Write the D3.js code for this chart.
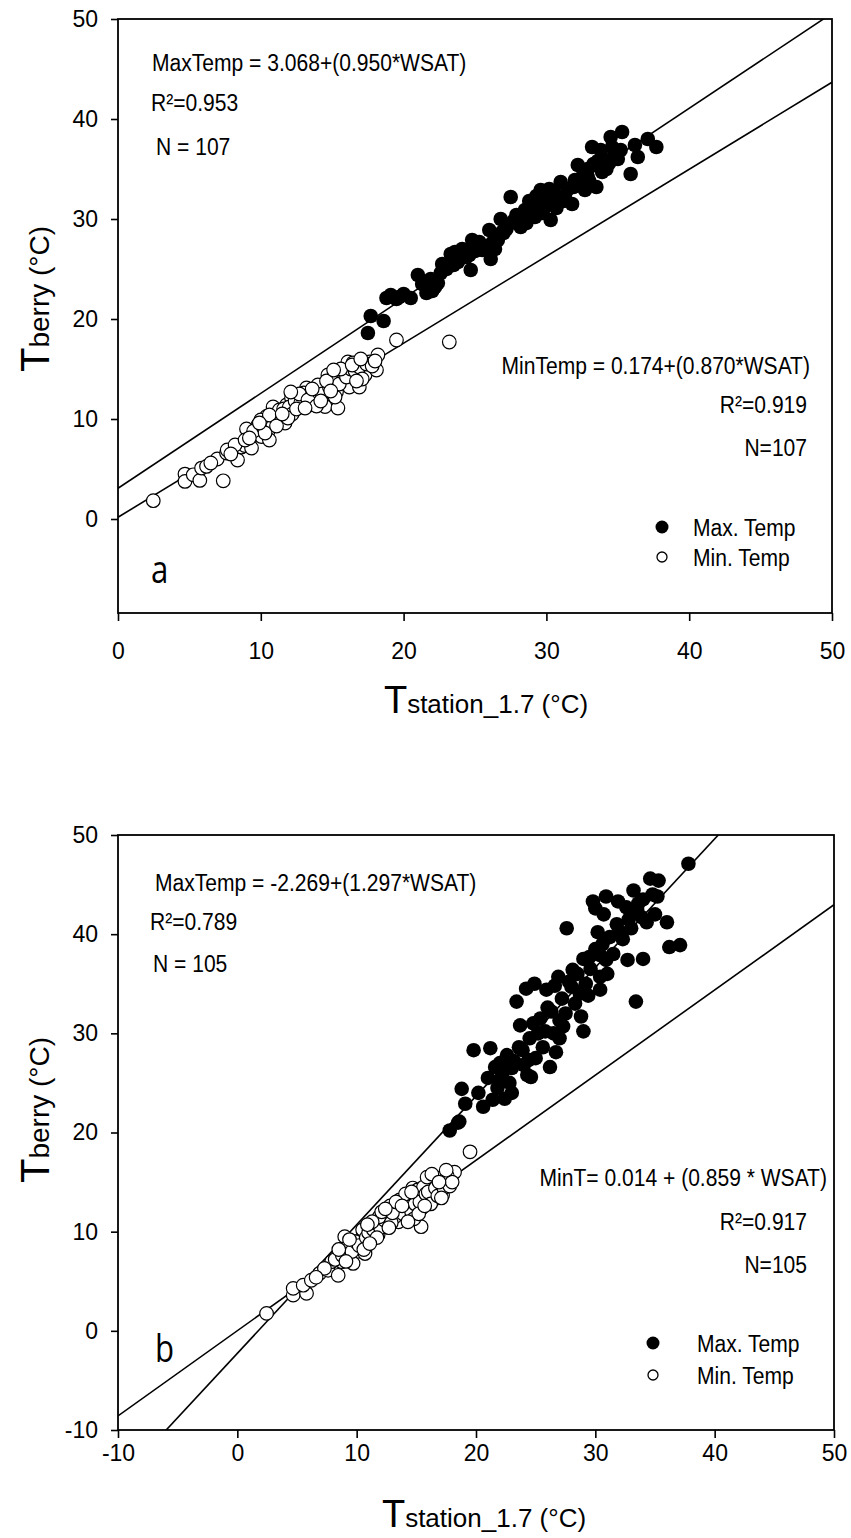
<!DOCTYPE html>
<html>
<head>
<meta charset="utf-8">
<script src="https://cdn.jsdelivr.net/npm/d3@7"></script>
<style>
  body { margin: 0; background: #fff; }
  text { font-family: "Liberation Sans", Arial, sans-serif; fill: #000; }
</style>
</head>
<body>
<div class="chart"></div>
<script>
const WIDTH = 851, HEIGHT = 1538;

// panel a : [station temp, berry temp]
const topMax = [
  [17.5,18.6],[17.7,20.3],[18.6,19.8],[18.8,22.1],[19.1,22.4],[19.7,22.2],[20.5,22.1],[21.0,24.4],
  [21.6,22.6],[21.8,23.7],[22.2,23.2],[22.4,23.6],[22.7,25.5],[23.3,26.5],[23.8,25.7],[24.1,27.0],
  [24.7,24.9],[24.8,27.9],[25.3,27.7],[25.5,26.9],[26.1,26.0],[26.0,28.9],[26.4,28.2],[26.8,30.0],
  [26.9,28.7],[27.5,32.2],[27.9,30.4],[28.2,29.2],[28.5,30.9],[28.9,31.5],[29.2,30.2],[29.6,32.9],
  [29.9,31.9],[30.3,29.9],[30.6,32.5],[31.0,33.7],[31.3,32.4],[31.8,31.5],[32.0,33.9],[32.2,35.4],
  [32.7,32.9],[32.9,34.2],[33.2,37.2],[33.5,33.2],[33.8,36.9],[33.9,34.7],[34.2,35.0],[34.5,38.2],
  [34.8,36.7],[35.3,38.7],[35.2,36.9],[35.9,34.5],[36.2,37.4],[36.4,36.2],[37.1,38.0],[37.7,37.2],
  [21.3,23.5],[21.9,24.0],[22.6,24.6],[23.0,25.0],[23.5,25.4],[23.9,26.0],[24.4,26.2],[25.0,26.8],
  [25.6,27.2],[26.2,27.6],[26.6,27.9],[27.0,28.6],[27.3,29.4],[27.7,29.8],[28.0,30.0],[28.4,30.4],
  [28.7,30.2],[29.0,30.8],[29.4,31.2],[29.8,31.0],[30.0,31.5],[30.4,31.8],[30.8,32.0],[31.2,31.8],
  [31.5,33.0],[31.9,33.2],[32.4,33.8],[32.9,35.0],[33.3,35.5],[33.6,35.8],[34.0,36.0],[34.6,37.2],
  [35.0,36.0],[24.6,26.4],[25.9,26.9],[26.4,27.0],[27.2,29.0],[28.8,31.8],[29.3,32.3],[30.2,33.0],
  [30.7,31.1],[22.0,22.8],[20.0,22.5],[19.5,22.0],[23.6,26.7],[24.9,27.2],[28.6,29.6],[29.7,30.6],
  [32.6,34.6],[33.0,33.8],[34.4,35.6]
];
const topMin = [
  [2.47,1.83],[4.69,4.49],[4.69,3.76],[5.27,4.42],[5.73,3.86],[5.85,5.09],[6.2,5.26],[6.95,6.0],
  [7.37,3.82],[7.6,6.6],[7.65,6.9],[8.37,5.9],[8.65,7.2],[8.88,7.35],[9.0,9.0],[9.35,7.1],
  [9.7,8.4],[9.8,9.4],[10.05,8.25],[10.4,10.25],[10.5,8.75],[10.6,7.9],[10.86,11.2],[11.2,10.6],
  [11.45,9.9],[11.7,9.6],[11.8,11.4],[12.15,12.1],[12.26,10.9],[12.6,11.6],[12.96,12.3],[13.2,13.1],
  [13.4,11.4],[13.8,11.75],[14.1,12.9],[14.36,12.1],[14.5,11.25],[14.7,14.4],[14.95,13.6],[15.3,12.7],
  [15.4,11.1],[15.76,13.9],[16.1,15.7],[16.45,15.6],[16.2,13.2],[16.9,13.2],[17.3,14.4],[17.6,15.7],
  [18.1,14.9],[18.2,16.4],[19.5,17.9],[23.2,17.7],
  [9.5,8.8],[10.2,9.1],[10.8,9.6],[11.0,10.2],[11.3,10.9],[11.6,11.0],[12.0,11.2],[12.4,11.8],
  [12.8,11.6],[13.0,12.6],[13.5,12.2],[13.7,12.8],[14.0,13.4],[14.3,12.5],[14.8,13.2],[15.0,14.0],
  [15.5,13.5],[15.8,14.6],[16.0,14.2],[16.3,15.0],[16.6,14.8],[16.9,15.2],[17.1,14.0],[17.4,15.5],
  [17.8,15.3],[18.0,15.8],[8.2,7.4],[8.9,7.9],[9.2,8.1],[10.0,9.9],[10.6,10.4],[12.2,10.5],
  [12.7,12.5],[13.3,11.9],[13.9,11.3],[14.6,13.8],[15.2,12.2],[15.6,15.0],[16.7,13.8],[11.9,10.1],
  [12.5,11.0],[13.6,13.0],[14.2,11.8],[15.1,14.9],[10.3,8.6],[11.1,9.3],[9.9,9.6],[7.9,6.5],
  [6.5,5.6],[16.4,15.4],[17.0,16.0],[14.9,12.8],[13.1,11.1],[11.5,10.5],[12.1,12.7]
];

// panel b
const botMax = [
  [17.8,20.2],[18.6,21.1],[19.1,22.9],[18.8,24.4],[20.6,22.6],[21.4,23.3],[22.4,23.4],[19.8,28.3],
  [21.2,28.5],[21.6,26.6],[22.0,25.3],[22.6,27.8],[23.0,26.5],[23.7,30.8],[23.9,28.3],[24.4,27.3],
  [24.6,25.6],[24.8,31.0],[25.2,30.0],[25.6,28.6],[26.2,26.6],[26.7,28.1],[23.4,33.2],[24.2,34.5],
  [24.9,35.0],[25.9,34.4],[26.3,32.2],[27.0,31.3],[27.3,30.7],[26.9,35.7],[28.0,34.7],[28.1,36.4],
  [28.7,34.0],[28.8,31.7],[29.0,30.2],[29.0,37.5],[29.5,37.7],[30.4,37.9],[30.4,35.7],[30.4,34.4],
  [30.9,37.4],[27.6,40.6],[30.2,40.2],[29.8,43.3],[30.0,42.6],[30.9,43.8],[31.9,43.3],[32.6,42.7],
  [33.2,44.4],[33.6,43.1],[33.9,41.7],[34.3,41.2],[32.7,37.4],[34.0,37.5],[33.4,33.2],[31.2,39.7],
  [32.0,40.3],[33.0,40.6],[34.6,45.6],[35.3,45.4],[35.2,43.8],[36.0,41.2],[36.2,38.7],[37.1,38.9],
  [37.8,47.1],[18.5,21.0],
  [21.0,25.5],[21.8,24.5],[22.2,26.0],[22.8,25.0],[23.2,27.2],[23.6,28.6],[24.0,26.8],[24.5,29.5],
  [25.0,27.5],[25.4,31.5],[25.8,30.2],[26.0,32.6],[26.5,30.0],[27.2,33.5],[27.5,32.0],[27.8,35.2],
  [28.3,33.0],[28.5,36.0],[29.2,35.0],[29.6,36.5],[30.0,38.5],[30.6,39.0],[31.0,36.0],[31.5,38.0],
  [31.8,41.0],[32.3,39.5],[32.8,41.5],[33.5,42.5],[34.0,43.5],[34.8,44.0],[35.0,42.0],[30.7,42.0],
  [29.4,33.8],[27.0,29.5],[24.3,25.8],[23.0,24.0],[22.0,27.0],[20.2,24.0],[26.6,34.8]
];
const botMin = [
  [2.45,1.76],[4.68,3.6],[4.68,4.28],[5.8,3.78],[5.52,4.6],[6.2,5.1],[6.9,5.8],[7.6,6.1],
  [8.45,5.6],[7.9,6.97],[8.73,6.97],[9.43,7.1],[9.0,9.5],[10.0,8.0],[10.7,7.8],[10.4,9.3],
  [10.5,10.2],[11.2,10.5],[11.8,9.7],[12.2,11.8],[12.5,10.8],[13.05,12.2],[13.5,11.0],[14.0,12.5],
  [14.45,11.5],[14.7,14.4],[15.0,13.5],[15.4,12.3],[15.4,10.5],[16.4,13.2],[16.1,15.2],[16.5,15.2],
  [17.2,13.7],[17.4,15.0],[17.9,15.2],[18.2,16.0],[19.5,18.05],[9.7,6.8],[8.6,7.8],
  [8.2,7.2],[8.8,7.6],[9.2,8.4],[9.6,8.0],[9.9,9.0],[10.2,8.6],[10.8,9.4],[11.0,9.9],
  [11.4,10.2],[11.6,10.9],[12.0,10.4],[12.3,11.2],[12.6,11.5],[12.8,12.6],[13.2,11.5],[13.4,12.4],
  [13.7,12.0],[13.9,11.8],[14.2,12.8],[14.4,13.2],[14.6,12.0],[14.9,12.8],[15.1,14.2],[15.3,13.0],
  [15.6,14.5],[15.8,13.8],[16.0,14.0],[16.2,12.8],[16.6,14.4],[16.8,13.6],[17.0,15.4],[17.3,14.4],
  [17.6,15.6],[17.8,14.6],[18.0,15.0],[11.9,11.5],[12.9,10.9],[13.6,13.2],[14.8,11.3],[15.9,15.5],
  [10.6,8.2],[9.4,9.2],[7.3,6.3],[6.6,5.4],[11.3,11.0],[12.1,12.0],[13.0,11.9],[14.1,13.8],
  [15.2,11.8],[16.3,15.8],[17.5,16.2],[14.3,11.0],[13.3,13.0],[12.7,10.4],[11.7,9.4],[10.9,10.7],
  [15.7,12.6],[16.9,15.0],[17.1,13.4],[14.6,14.0],[13.8,12.6],[12.4,12.3],[11.1,8.8],[9.1,7.0],
  [8.5,8.2]
];

// regression lines [intercept, slope] : max, min
const topFits = [[3.068, 0.950], [0.174, 0.870]];
const botFits = [[-2.269, 1.297], [0.014, 0.859]];

const topXTicks = [0, 10, 20, 30, 40, 50];
const topYTicks = [0, 10, 20, 30, 40, 50];
const botXTicks = [-10, 0, 10, 20, 30, 40, 50];
const botYTicks = [-10, 0, 10, 20, 30, 40, 50];

const legendLabels = ["Max. Temp", "Min. Temp"];

var svg = d3
  .select(".chart")
  .append("svg")
  .attr("width", WIDTH)
  .attr("height", HEIGHT);

// narrow text like the original
function ctext(g, x, y, str, size, anchor) {
  return g.append("text")
    .attr("transform", `translate(${x},${y}) scale(0.86,1)`)
    .attr("text-anchor", anchor || "start")
    .style("font-size", size + "px")
    .text(str);
}

function drawPanel(p) {
  const x = d3.scaleLinear().domain(p.xDomain).range([p.left, p.right]);
  const y = d3.scaleLinear().domain(p.yDomain).range([p.bottom, p.top]);
  const g = svg.append("g");

  g.append("clipPath").attr("id", "clip" + p.id)
    .append("rect")
    .attr("x", p.left).attr("y", p.top)
    .attr("width", p.right - p.left).attr("height", p.bottom - p.top);

  // fit lines
  g.append("g").attr("clip-path", `url(#clip${p.id})`)
    .selectAll("line")
    .data(p.fits)
    .join("line")
    .attr("x1", x(p.xDomain[0]))
    .attr("y1", d => y(d[0] + d[1] * p.xDomain[0]))
    .attr("x2", x(p.xDomain[1]))
    .attr("y2", d => y(d[0] + d[1] * p.xDomain[1]))
    .attr("stroke", "black")
    .attr("stroke-width", 1.6);

  g.append("g").selectAll("circle")
    .data(p.min)
    .join("circle")
    .attr("cx", d => x(d[0]))
    .attr("cy", d => y(d[1]))
    .attr("r", 6.8)
    .attr("fill", "white")
    .attr("stroke", "black")
    .attr("stroke-width", 1.2);

  g.append("g").selectAll("circle")
    .data(p.max)
    .join("circle")
    .attr("cx", d => x(d[0]))
    .attr("cy", d => y(d[1]))
    .attr("r", 7.3)
    .attr("fill", "black");

  // axes
  const fmt = d => String(d);
  const xa = g.append("g")
    .attr("transform", `translate(0,${p.bottom})`)
    .call(d3.axisBottom(x).tickValues(p.xTicks).tickSize(8).tickPadding(p.xPad).tickFormat(fmt));
  const ya = g.append("g")
    .attr("transform", `translate(${p.left},0)`)
    .call(d3.axisLeft(y).tickValues(p.yTicks).tickSize(7).tickPadding(13).tickFormat(fmt));
  [xa, ya].forEach(a => {
    a.select(".domain").remove();
    a.selectAll("line").attr("stroke", "black").attr("stroke-width", 1.6);
    a.selectAll("text").style("font-size", "23px").style("font-family", "'Liberation Sans', Arial, sans-serif").attr("fill", "black");
  });

  g.append("rect")
    .attr("x", p.left).attr("y", p.top)
    .attr("width", p.right - p.left).attr("height", p.bottom - p.top)
    .attr("fill", "none").attr("stroke", "black").attr("stroke-width", 1.8);

  // axis titles
  const xt = g.append("text")
    .attr("x", p.xTitle[0]).attr("y", p.xTitle[1])
    .attr("text-anchor", "middle");
  xt.append("tspan").style("font-size", "38px").text("T");
  xt.append("tspan").style("font-size", "26px").text("station_1.7 (°C)");

  const yt = g.append("text")
    .attr("transform", `translate(${p.yTitle[0]},${p.yTitle[1]}) rotate(-90)`);
  yt.append("tspan").style("font-size", "40px").text("T");
  yt.append("tspan").style("font-size", "28px").text("berry (°C)");

  // annotations
  p.notes.forEach(n => ctext(g, n[0], n[1], n[2], 24.5, n[3]));

  // legend
  g.append("circle").attr("cx", p.legend[0]).attr("cy", p.legend[1]).attr("r", 6.5).attr("fill", "black");
  g.append("circle").attr("cx", p.legend[0]).attr("cy", p.legend[1] + p.legend[3]).attr("r", 5)
    .attr("fill", "white").attr("stroke", "black").attr("stroke-width", 1.3);
  legendLabels.forEach((l, i) =>
    ctext(g, p.legend[2], p.legend[1] + 9 + i * p.legend[3], l, 24.5, "start"));

  g.append("text")
    .attr("transform", `translate(${p.letter[0]},${p.letter[1]}) scale(0.8,1)`)
    .style("font-family", "'Open Sans', sans-serif")
    .style("font-size", "39px")
    .text(p.letter[2]);
}

drawPanel({
  id: "a", left: 118, right: 832, top: 19, bottom: 613,
  xDomain: [0, 50], yDomain: [-9.4, 50],
  xTicks: topXTicks, yTicks: topYTicks, xPad: 22,
  max: topMax, min: topMin, fits: topFits,
  xTitle: [486, 713], yTitle: [49, 372],
  notes: [
    [152, 71, "MaxTemp  = 3.068+(0.950*WSAT)", "start"],
    [151, 111, "R²=0.953", "start"],
    [156, 155, "N  = 107", "start"],
    [810, 374, "MinTemp = 0.174+(0.870*WSAT)", "end"],
    [807, 413, "R²=0.919", "end"],
    [807, 456, "N=107", "end"]
  ],
  legend: [662, 527, 693, 30],
  letter: [151, 583, "a"]
});

drawPanel({
  id: "b", left: 118, right: 834, top: 835, bottom: 1430,
  xDomain: [-10, 50], yDomain: [-10, 50],
  xTicks: botXTicks, yTicks: botYTicks, xPad: 7,
  max: botMax, min: botMin, fits: botFits,
  xTitle: [484, 1527], yTitle: [49, 1183],
  notes: [
    [155, 891, "MaxTemp  = -2.269+(1.297*WSAT)", "start"],
    [150, 930, "R²=0.789", "start"],
    [153, 972, "N  = 105", "start"],
    [827, 1186, "MinT= 0.014 + (0.859 * WSAT)", "end"],
    [807, 1230, "R²=0.917", "end"],
    [807, 1273, "N=105", "end"]
  ],
  legend: [653, 1343, 697, 32],
  letter: [155, 1362, "b"]
});
</script>
</body>
</html>
